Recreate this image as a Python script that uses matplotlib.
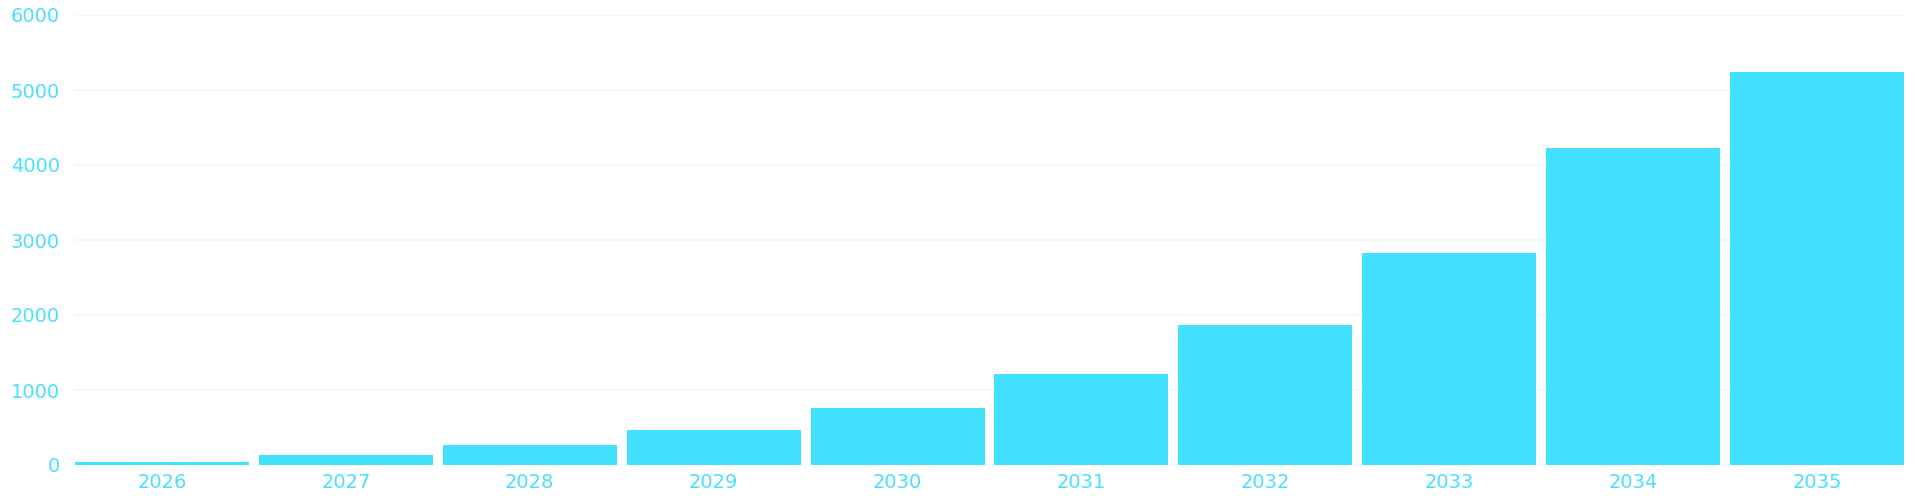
import matplotlib
matplotlib.use("Agg")
import matplotlib.pyplot as plt

years = ["2026", "2027", "2028", "2029", "2030", "2031", "2032", "2033", "2034", "2035"]
values = [45, 135, 270, 467, 763, 1212, 1871, 2831, 4230, 5244]
yticks = [0, 1000, 2000, 3000, 4000, 5000, 6000]

BAR = "#42E1FE"
TXT = "#4ADFFF"
GRID = "#E6F9FE"

fig = plt.figure(figsize=(19.2, 5), dpi=100)
ax = fig.add_axes([75 / 1920, 35 / 500, 1829 / 1920, 450 / 500])

w = 0.946
x = list(range(len(years)))
ax.bar(x, values, width=w, color=BAR, zorder=3, linewidth=0)

ax.set_xlim(-w / 2, len(years) - 1 + w / 2)
ax.set_ylim(0, 6000)
ax.set_yticks(yticks)
ax.set_yticklabels([str(t) for t in yticks])
ax.set_xticks(x)
ax.set_xticklabels(years)

ax.grid(axis="y", color=GRID, linewidth=1.2, zorder=0)
ax.grid(axis="x", visible=False)
for s in ax.spines.values():
    s.set_visible(False)
ax.tick_params(axis="y", length=0, pad=11, labelsize=14, labelcolor=TXT)
ax.tick_params(axis="x", length=0, pad=5.5, labelsize=14, labelcolor=TXT)
ax.set_axisbelow(True)

fig.savefig("out.png", dpi=100, facecolor="white")
